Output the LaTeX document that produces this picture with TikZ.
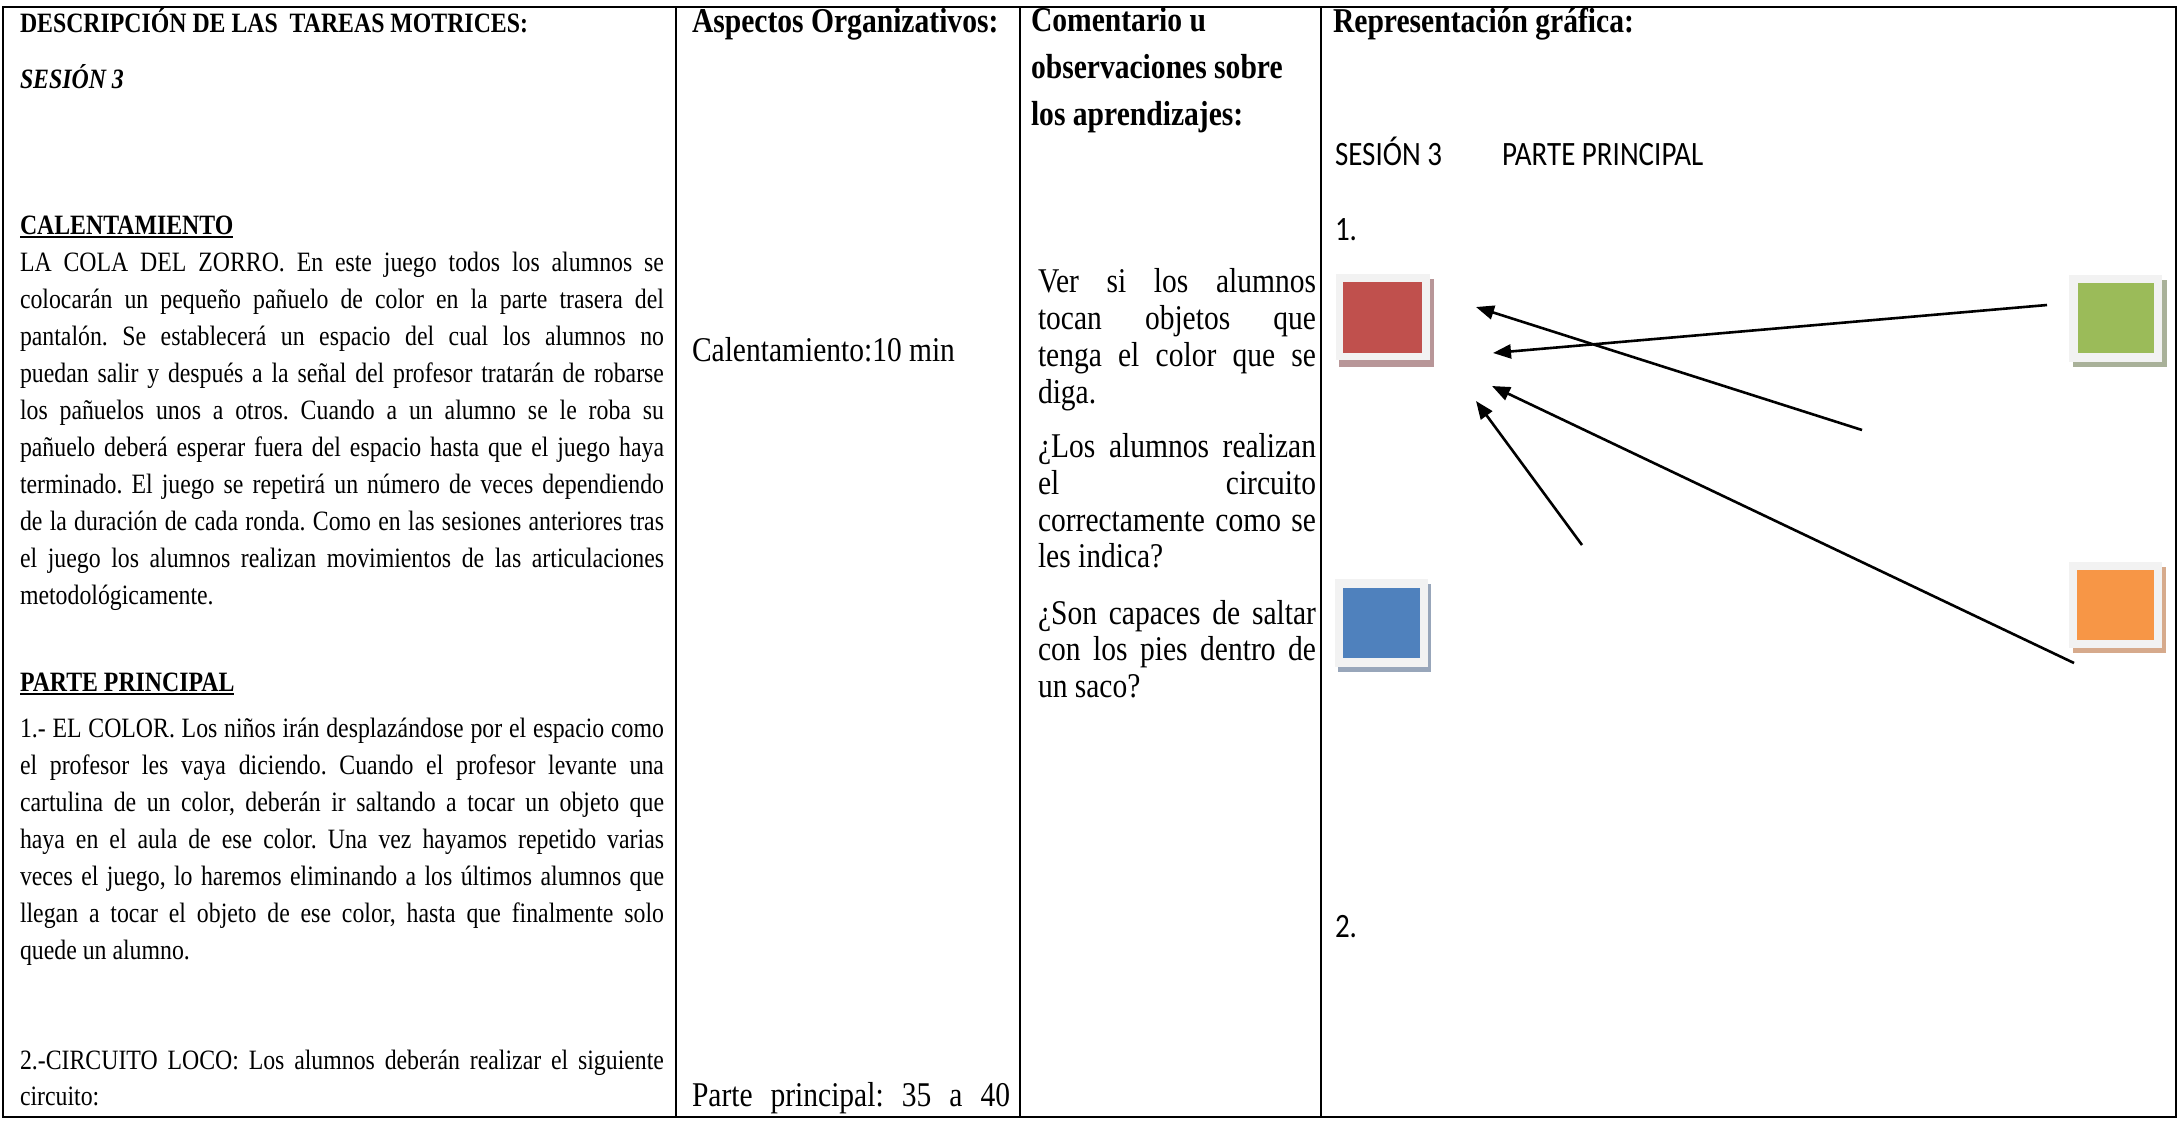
\documentclass[tikz,border=0pt]{standalone}
\usepackage{fontspec}
\setmainfont{Liberation Serif}[FakeStretch=0.85]
\newfontfamily\calib{Carlito}[FakeStretch=0.85]
\usetikzlibrary{arrows.meta}
\definecolor{frameg}{HTML}{F2F2F2}
\definecolor{cred}{HTML}{C0504D}
\definecolor{cgreen}{HTML}{9BBB59}
\definecolor{cblue}{HTML}{4F81BD}
\definecolor{corange}{HTML}{F79646}
\definecolor{sred}{HTML}{B89698}
\definecolor{sgreen}{HTML}{A9B199}
\definecolor{sblue}{HTML}{98A6BA}
\definecolor{sorange}{HTML}{D6AA8C}
\newcommand{\fbody}{\fontsize{14}{16}\selectfont}
\newcommand{\fhead}{\fontsize{17.4}{20}\selectfont\bfseries}
\newcommand{\fbig}{\fontsize{17.35}{20}\selectfont}
\newcommand{\fcal}{\calib\fontsize{17.06}{20}\selectfont}
\newcommand{\JL}[2]{\makebox[#1][s]{#2}}
\frenchspacing
\begin{document}
\begin{tikzpicture}[x=0.5pt,y=-0.5pt,
  txt/.style={anchor=base west, inner sep=0pt, outer sep=0pt},
  grid/.style={line width=1.4pt, black},
  uline/.style={line width=1.1pt, black},
  arr/.style={line width=1.3pt, -{Triangle[length=9pt,width=7pt]}}]
\useasboundingbox (0,0) rectangle (2179,1121);
\fill[white] (0,0) rectangle (2179,1121);
% table
\draw[grid] (3,7) rectangle (2176,1117);
\draw[grid] (676,7) -- (676,1117);
\draw[grid] (1020,7) -- (1020,1117);
\draw[grid] (1321,7) -- (1321,1117);
% column 1
\node[txt] (h1) at (20,32) {\fbody\bfseries DESCRIPCIÓN DE LAS\ \ TAREAS MOTRICES:};
\node[txt] (s1) at (20,88) {\fbody\bfseries\itshape SESIÓN 3};
\node[txt] (cal) at (20,234) {\fbody\bfseries CALENTAMIENTO};
\draw[uline] ([yshift=-1.3pt]cal.base west) -- ([yshift=-1.3pt]cal.base east);
\node[txt] (p1a) at (20,271) {\fbody\JL{322pt}{LA COLA DEL ZORRO. En este juego todos los alumnos se}};
\node[txt] (p1b) at (20,308) {\fbody\JL{322pt}{colocarán un pequeño pañuelo de color en la parte trasera del}};
\node[txt] (p1c) at (20,345) {\fbody\JL{322pt}{pantalón. Se establecerá un espacio del cual los alumnos no}};
\node[txt] (p1d) at (20,382) {\fbody\JL{322pt}{puedan salir y después a la señal del profesor tratarán de robarse}};
\node[txt] (p1e) at (20,419) {\fbody\JL{322pt}{los pañuelos unos a otros. Cuando a un alumno se le roba su}};
\node[txt] (p1f) at (20,456) {\fbody\JL{322pt}{pañuelo deberá esperar fuera del espacio hasta que el juego haya}};
\node[txt] (p1g) at (20,493) {\fbody\JL{322pt}{terminado. El juego se repetirá un número de veces dependiendo}};
\node[txt] (p1h) at (20,530) {\fbody\JL{322pt}{de la duración de cada ronda. Como en las sesiones anteriores tras}};
\node[txt] (p1i) at (20,567) {\fbody\JL{322pt}{el juego los alumnos realizan movimientos de las articulaciones}};
\node[txt] (p1j) at (20,604) {\fbody metodológicamente.};
\node[txt] (pp) at (20,691) {\fbody\bfseries PARTE PRINCIPAL};
\draw[uline] ([yshift=-1.3pt]pp.base west) -- ([yshift=-1.3pt]pp.base east);
\node[txt] (p2a) at (20,737) {\fbody\JL{322pt}{1.- EL COLOR. Los niños irán desplazándose por el espacio como}};
\node[txt] (p2b) at (20,774) {\fbody\JL{322pt}{el profesor les vaya diciendo. Cuando el profesor levante una}};
\node[txt] (p2c) at (20,811) {\fbody\JL{322pt}{cartulina de un color, deberán ir saltando a tocar un objeto que}};
\node[txt] (p2d) at (20,848) {\fbody\JL{322pt}{haya en el aula de ese color. Una vez hayamos repetido varias}};
\node[txt] (p2e) at (20,885) {\fbody\JL{322pt}{veces el juego, lo haremos eliminando a los últimos alumnos que}};
\node[txt] (p2f) at (20,922) {\fbody\JL{322pt}{llegan a tocar el objeto de ese color, hasta que finalmente solo}};
\node[txt] (p2g) at (20,959) {\fbody quede un alumno.};
\node[txt] (p3a) at (20,1069) {\fbody\JL{322pt}{2.-CIRCUITO LOCO: Los alumnos deberán realizar el siguiente}};
\node[txt] (p3b) at (20,1105) {\fbody circuito:};
% column 2
\node[txt] (h2) at (692,32) {\fhead Aspectos Organizativos:};
\node[txt] (c2a) at (692,361) {\fbig Calentamiento:10 min};
\node[txt] (c2b) at (692,1106) {\fbig\JL{159pt}{Parte principal: 35 a 40}};
% column 3
\node[txt] (h3a) at (1031,31) {\fhead Comentario u};
\node[txt] (h3b) at (1031,78) {\fhead observaciones sobre};
\node[txt] (h3c) at (1031,125) {\fhead los aprendizajes:};
\node[txt] (c3a) at (1038,292) {\fbig\JL{139pt}{Ver si los alumnos}};
\node[txt] (c3b) at (1038,329) {\fbig\JL{139pt}{tocan objetos que}};
\node[txt] (c3c) at (1038,366) {\fbig\JL{139pt}{tenga el color que se}};
\node[txt] (c3d) at (1038,403) {\fbig diga.};
\node[txt] (c3e) at (1038,457) {\fbig\JL{139pt}{¿Los alumnos realizan}};
\node[txt] (c3f) at (1038,494) {\fbig\JL{139pt}{el circuito}};
\node[txt] (c3g) at (1038,531) {\fbig\JL{139pt}{correctamente como se}};
\node[txt] (c3h) at (1038,567) {\fbig les indica?};
\node[txt] (c3i) at (1038,624) {\fbig\JL{139pt}{¿Son capaces de saltar}};
\node[txt] (c3j) at (1038,660) {\fbig\JL{139pt}{con los pies dentro de}};
\node[txt] (c3k) at (1038,697) {\fbig un saco?};
% column 4
\node[txt] (h4) at (1333,32) {\fhead Representación gráfica:};
\node[txt] (g1) at (1335,165) {\fcal SESIÓN 3};
\node[txt] (g2) at (1502,165) {\fcal PARTE PRINCIPAL};
\node[txt] (g3) at (1335,240) {\fcal 1.};
\node[txt] (g4) at (1335,937) {\fcal 2.};
% squares: shadow, frame, colour
\fill[sred] (1339,279) rectangle (1434,367);
\fill[frameg] (1336,274) rectangle (1430,360);
\node[fill=cred, inner sep=0pt, minimum width=39.5pt, minimum height=35.5pt] (red) at (1382.5,317.5) {};
\fill[sgreen] (2073,280) rectangle (2167,367);
\fill[frameg] (2069,275) rectangle (2162,362);
\node[fill=cgreen, inner sep=0pt, minimum width=38pt, minimum height=35pt] (green) at (2116,318) {};
\fill[sblue] (1338,584) rectangle (1431,672);
\fill[frameg] (1335,579) rectangle (1428,667);
\node[fill=cblue, inner sep=0pt, minimum width=38.5pt, minimum height=35pt] (blue) at (1381.5,623) {};
\fill[sorange] (2073,567) rectangle (2166,653);
\fill[frameg] (2069,562) rectangle (2162,648);
\node[fill=corange, inner sep=0pt, minimum width=38.5pt, minimum height=35pt] (orange) at (2115.5,605) {};
% arrows
\coordinate (a1s) at (2047,305); \coordinate (a1e) at (1493,353);
\coordinate (a2s) at (1862,430); \coordinate (a2e) at (1476,307);
\coordinate (a3s) at (1582,545); \coordinate (a3e) at (1476,401);
\coordinate (a4s) at (2074,663); \coordinate (a4e) at (1492,386);
\draw[arr] (a1s) -- (a1e);
\draw[arr] (a2s) -- (a2e);
\draw[arr] (a3s) -- (a3e);
\draw[arr] (a4s) -- (a4e);
\end{tikzpicture}
\end{document}
